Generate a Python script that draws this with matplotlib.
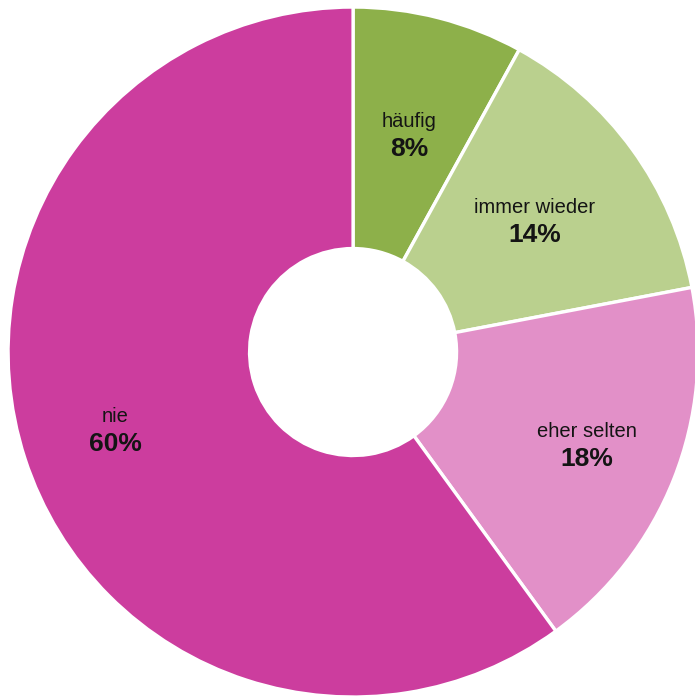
import numpy as np
import matplotlib
matplotlib.use("Agg")
import matplotlib.pyplot as plt

plt.rcParams['font.family'] = ['Liberation Sans', 'DejaVu Sans']

categories = ['häufig', 'immer wieder', 'eher selten', 'nie']
values = [8, 14, 18, 60]
colors = ['#8db04a', '#bad08e', '#e290c8', '#cc3d9e']
label_dist = [0.65, 0.65, 0.73, 0.725]

fig = plt.figure(figsize=(6.95, 6.98), dpi=100)
ax = fig.add_axes([0.0115, 0.0014, 0.993, 0.9885])

wedges, _ = ax.pie(values, colors=colors, startangle=90, counterclock=False,
                   radius=1, wedgeprops=dict(width=0.7, edgecolor='white', linewidth=2.4))

for w, cat, val, d in zip(wedges, categories, values, label_dist):
    ang = np.deg2rad((w.theta1 + w.theta2) / 2)
    x, y = d * np.cos(ang), d * np.sin(ang)
    ax.annotate(cat, (x, y), xytext=(0, 9.5), textcoords='offset points',
                ha='center', va='center', fontsize=14.5, color='#141414')
    ax.annotate(f'{val}%', (x, y), xytext=(0, -10.5), textcoords='offset points',
                ha='center', va='center', fontsize=19, fontweight='bold', color='#141414')

ax.set_xlim(-1, 1)
ax.set_ylim(-1, 1)
ax.axis('off')

fig.savefig('out.png', dpi=100)
